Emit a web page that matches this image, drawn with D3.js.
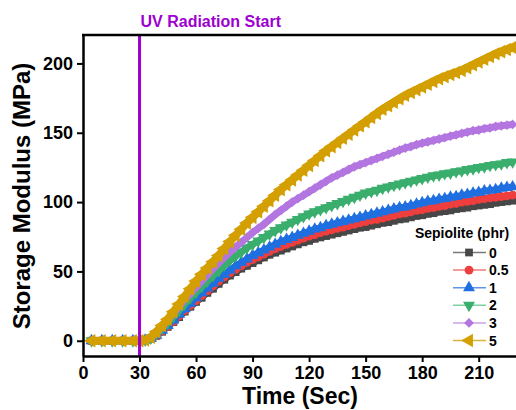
<!DOCTYPE html>
<html>
<head>
<meta charset="utf-8">
<script src="https://cdn.jsdelivr.net/npm/d3@7"></script>
<style>
  html, body { margin: 0; padding: 0; background: #fff; }
  svg { display: block; font-family: "Liberation Sans", Arial, sans-serif; }
</style>
</head>
<body>
<svg id="chart" width="516" height="410"></svg>
<script>
// Sampling times (s): a few points before UV exposure, then every 3 s
const times = [4.5, 10, 15.5, 21, 26.5,
  30,33,36,39,42,45,48,51,54,57,60,63,66,69,72,75,78,81,84,87,90,93,96,99,
  102,105,108,111,114,117,120,123,126,129,132,135,138,141,144,147,150,153,156,159,
  162,165,168,171,174,177,180,183,186,189,192,195,198,201,204,207,210,213,216,219,
  222,225,228];

// Storage modulus (MPa) for each sepiolite loading
const s0 = [0,0,0,0,0,
  0,0.5,1.5,3.5,6.5,10,13.5,17,21,24.5,28,31,34.5,37.5,41,44,47,49.5,52,54,56,58,60,62,
  63.5,65,66.5,68,69.5,71,72,73.5,74.5,75.5,76.5,77.5,78.5,79.5,80.5,81.5,82,83,84,85,
  85.5,86.5,87.5,88,89,90,90.5,91.5,92,93,93.5,94,95,95.5,96,97,97.5,98,98.5,99.5,
  100,100.5,101];
const s05 = [0,0,0,0,0,
  0,0.5,1.5,3.5,7,10.5,14,18,22,25.5,29,32.5,36,39.5,43,46,49,51.5,54,56.5,58.5,60.5,62.5,64.5,
  66.5,68,69.5,71,72.5,74,75.5,76.5,78,79,80,81,82,83,84,85,86,87,87.5,88.5,
  89.5,90.5,91.5,92,93,94,94.5,95.5,96,97,97.5,98.5,99,100,100.5,101,102,102.5,103,103.5,
  104,104.5,105];
const s1 = [0,0,0,0,0,
  0,0.5,1.5,4,7.5,11,15,19,23,27,31,34.5,38,41.5,45,48,51,54,56.5,59,61.5,63.5,65.5,67.5,
  69.5,71.5,73,74.5,76,77.5,79,80.5,81.5,83,84,85,86,87,88,89,90,91,92,93,
  94,95,96,96.5,97.5,98.5,99.5,100.5,101,102,102.5,103.5,104,105,105.5,106.5,107,108,108.5,109,
  110,110.5,111];
const s2 = [0,0,0,0,0,
  0,0.5,2,5,9,13,17.5,22,26.5,31,35,39,43,47,50.5,54.5,58,61,64,67,69.5,72,74.5,77,
  79.5,81.5,83.5,85.5,87.5,89.5,91.5,93,94.5,96,97.5,99,100.5,102,103.5,105,106.5,107.5,108.5,110,
  111,112,113,114,115,116,117,118,119,119.5,120.5,121,122,122.5,123.5,124,125,125.5,126.5,127,
  127.5,128.5,129];
const s3 = [0,0,0,0,0,
  0,0.5,2,5.5,10,14.5,19.5,24.5,29.5,34,38.5,43,47.5,52,56,60,64,67.5,71,74.5,78,81,84,87.5,
  91,94,97,100,102.5,105,107.5,110,112.5,115,117.5,119.5,121.5,123.5,125.5,127,128.5,130,131.5,133,
  134.5,136,137.5,139,140,141.5,142.5,143.5,144.5,145.5,146.5,147.5,148.5,149.5,150.5,151.5,152,153,153.5,154.5,
  155,155.5,156];
const s5 = [0,0,0,0,0,
  0,0.5,2.5,6.5,11,15.5,21,26.5,32,37.5,43,48,52.5,57,61.5,66.5,71.5,76,80.5,85,89,93,97,101,
  105,109,112.5,116,119.5,123,126.5,130,133.5,137,140,143,146,149,152,155,158,161,164,167,
  169.5,172,174.5,177,179,181,183,185,187,189,190.5,192,193.5,195,197,199,201,203,205,207,
  208.5,210,211.5];

const seriesNames = ["0", "0.5", "1", "2", "3", "5"];
const seriesValues = [s0, s05, s1, s2, s3, s5];
const seriesColors = ["#474747", "#ef3e3e", "#1f6fe0", "#3aae6c", "#b376e0", "#d49f00"];
const lineColors = ["#7a7a7a", "#f07a7a", "#5c95ea", "#7fd0a0", "#c9a2ea", "#dcb23c"];
const bandWidths = [6.5, 6.5, 6.5, 7, 7, 8];
const xTicks = [0, 30, 60, 90, 120, 150, 180, 210];
const yTicks = [0, 50, 100, 150, 200];
const uvStart = 30;

const svg = d3.select("#chart");
const padL = 83, padT = 35, padB = 356, padR = 516;

const x = d3.scaleLinear().domain([0, 229.8]).range([padL, padR]);
const y = d3.scaleLinear().domain([-11, 220.5]).range([padB, padT]);

// marker shapes: square, circle, up, down, diamond, left
const shapes = [
  { type: d3.symbolSquare, size: 60, rot: 0 },
  { type: d3.symbolCircle, size: 62, rot: 0 },
  { type: d3.symbolTriangle, size: 62, rot: 0 },
  { type: d3.symbolTriangle, size: 62, rot: 180 },
  { type: d3.symbolSquare, size: 48, rot: 45 },
  { type: d3.symbolTriangle, size: 80, rot: -90 }
];

svg.append("defs").append("clipPath").attr("id", "plotclip")
  .append("rect").attr("x", padL).attr("y", padT)
  .attr("width", padR - padL).attr("height", padB - padT);

const plot = svg.append("g").attr("clip-path", "url(#plotclip)");

const line = d3.line().x((d, i) => x(times[i])).y(d => y(d));

seriesValues.forEach((vals, k) => {
  const g = plot.append("g");
  g.append("path")
    .attr("d", line(vals))
    .attr("fill", "none")
    .attr("stroke", seriesColors[k])
    .attr("stroke-width", bandWidths[k])
    .attr("stroke-linejoin", "round");
  const sym = d3.symbol().type(shapes[k].type).size(shapes[k].size);
  g.selectAll("path.m").data(vals).join("path")
    .attr("class", "m")
    .attr("d", sym)
    .attr("transform", (d, i) => `translate(${x(times[i])},${y(d)}) rotate(${shapes[k].rot})`)
    .attr("fill", seriesColors[k]);
});

// UV exposure marker
svg.append("line")
  .attr("x1", x(uvStart)).attr("x2", x(uvStart))
  .attr("y1", padT).attr("y2", padB)
  .attr("stroke", "#9d00cf").attr("stroke-width", 3);
svg.append("text")
  .attr("x", x(uvStart) + 1).attr("y", 27)
  .attr("fill", "#9d00cf")
  .attr("font-size", 16).attr("font-weight", "bold")
  .text("UV Radiation Start");

// Axes
const xAxis = svg.append("g")
  .attr("transform", `translate(0,${padB})`)
  .call(d3.axisBottom(x).tickValues(xTicks).tickSize(6).tickSizeOuter(0).tickPadding(4));
const yAxis = svg.append("g")
  .attr("transform", `translate(${padL},0)`)
  .call(d3.axisLeft(y).tickValues(yTicks).tickSize(6).tickSizeOuter(0).tickPadding(4));

[xAxis, yAxis].forEach(a => {
  a.select(".domain").attr("stroke", "#000").attr("stroke-width", 2.5);
  a.selectAll(".tick line").attr("stroke", "#000").attr("stroke-width", 2);
  a.selectAll(".tick text")
    .attr("fill", "#000")
    .attr("font-size", 18).attr("font-weight", "bold")
    .attr("font-family", "Liberation Sans, Arial, sans-serif");
});

// Top frame line
svg.append("line")
  .attr("x1", padL - 1).attr("x2", padR)
  .attr("y1", padT).attr("y2", padT)
  .attr("stroke", "#000").attr("stroke-width", 2.5);

// Axis titles
svg.append("text")
  .attr("x", 300).attr("y", 404)
  .attr("text-anchor", "middle")
  .attr("font-size", 23).attr("font-weight", "bold")
  .text("Time (Sec)");
svg.append("text")
  .attr("transform", "translate(30,196) rotate(-90)")
  .attr("text-anchor", "middle")
  .attr("font-size", 24).attr("font-weight", "bold")
  .text("Storage Modulus (MPa)");

// Legend
const legend = svg.append("g");
legend.append("text")
  .attr("x", 462).attr("y", 238)
  .attr("text-anchor", "middle")
  .attr("font-size", 14).attr("font-weight", "bold")
  .text("Sepiolite (phr)");
seriesNames.forEach((name, k) => {
  const cy = 252.5 + k * 17.6;
  legend.append("line")
    .attr("x1", 453).attr("x2", 486).attr("y1", cy).attr("y2", cy)
    .attr("stroke", lineColors[k]).attr("stroke-width", 1.5);
  legend.append("path")
    .attr("d", d3.symbol().type(shapes[k].type).size(shapes[k].size)())
    .attr("transform", `translate(469,${cy}) rotate(${shapes[k].rot})`)
    .attr("fill", seriesColors[k]);
  legend.append("text")
    .attr("x", 489).attr("y", cy + 5)
    .attr("font-size", 14).attr("font-weight", "bold")
    .text(name);
});
</script>
</body>
</html>
